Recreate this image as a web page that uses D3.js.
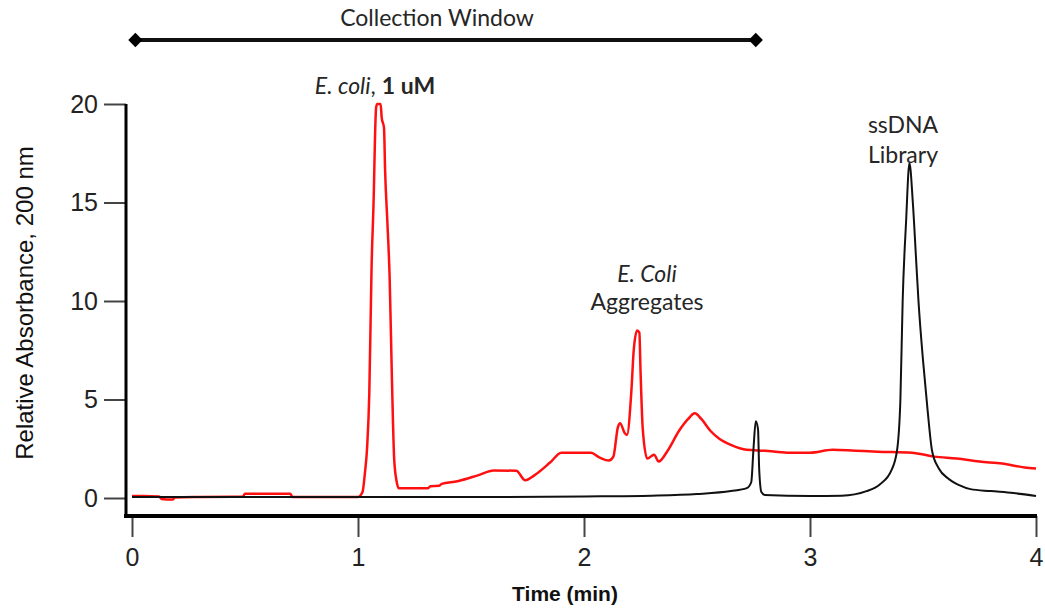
<!DOCTYPE html>
<html>
<head>
<meta charset="utf-8">
<script src="https://cdn.jsdelivr.net/npm/d3@7"></script>
<style>
  body { margin: 0; background: #fff; }
  .tick text { font-family: "Liberation Sans", Arial, sans-serif; font-size: 25px; fill: #222; }
  .tick line { stroke: #444; stroke-width: 2; }
  .note { font-family: Lato, "Open Sans", sans-serif; font-size: 23px; fill: #262626; }
</style>
</head>
<body>
<svg width="1045" height="609"></svg>
<script>
// E. coli trace (red), time in min / relative absorbance
const ecoliTime = [0, 0.05, 0.12, 0.13, 0.18, 0.19, 0.3, 0.45, 0.49, 0.5, 0.7, 0.71, 0.9, 1.0,
  1.02, 1.03, 1.04, 1.05, 1.06, 1.07, 1.075, 1.08, 1.085, 1.1, 1.105, 1.115, 1.12, 1.13, 1.14,
  1.15, 1.16, 1.17, 1.18, 1.31, 1.32, 1.36, 1.37, 1.44, 1.53, 1.6, 1.7, 1.74, 1.78, 1.85, 1.9,
  2.03, 2.07, 2.11, 2.13, 2.15, 2.16, 2.18, 2.19, 2.21, 2.22, 2.235, 2.245, 2.25, 2.26, 2.28,
  2.31, 2.33, 2.37, 2.42, 2.46, 2.49, 2.52, 2.56, 2.6, 2.65, 2.72, 2.8, 2.9, 3.0, 3.1, 3.2,
  3.3, 3.45, 3.55, 3.65, 3.75, 3.85, 3.95, 4.0];
const ecoliAbs = [0.1, 0.1, 0.08, -0.05, -0.08, 0.03, 0.05, 0.06, 0.06, 0.22, 0.22, 0.05, 0.05, 0.05,
  0.3, 1.2, 2.5, 5.3, 11.7, 15.5, 18.2, 19.8, 20.0, 20.0, 19.3, 18.8, 16.6, 14, 11.2,
  6.1, 2.0, 0.9, 0.5, 0.5, 0.6, 0.62, 0.72, 0.85, 1.15, 1.4, 1.38, 0.9, 1.15, 1.8, 2.3,
  2.3, 2.05, 1.9, 2.1, 3.6, 3.8, 3.3, 3.2, 5.5, 7.5, 8.5, 8.4, 6.5, 3.5, 2.0,
  2.2, 1.85, 2.4, 3.4, 4.0, 4.3, 4.0, 3.4, 3.0, 2.7, 2.45, 2.4, 2.3, 2.3, 2.45, 2.4,
  2.35, 2.3, 2.1, 2.0, 1.85, 1.75, 1.55, 1.5];

// ssDNA library trace (black)
const libraryTime = [0, 0.5, 1.0, 1.5, 2.0, 2.3, 2.5, 2.65, 2.72, 2.74, 2.75, 2.76, 2.77, 2.775,
  2.785, 2.8, 3.0, 3.14, 3.25, 3.31, 3.36, 3.385, 3.4, 3.41, 3.425, 3.44, 3.455, 3.47, 3.48,
  3.5, 3.52, 3.54, 3.57, 3.61, 3.66, 3.71, 3.8, 3.9, 4.0];
const libraryAbs = [0.05, 0.05, 0.05, 0.05, 0.08, 0.12, 0.2, 0.35, 0.5, 0.8, 2.5, 3.9, 3.5, 1.5,
  0.3, 0.15, 0.1, 0.12, 0.35, 0.7, 1.4, 2.4, 5.0, 10, 14, 17, 15, 12, 10,
  7, 4.5, 2.4, 1.5, 1.0, 0.65, 0.45, 0.35, 0.25, 0.1];

const xTicks = [0, 1, 2, 3, 4];
const yTicks = [0, 5, 10, 15, 20];
const collectionWindow = [0.015, 2.76];

const svg = d3.select("svg");
const x = d3.scaleLinear().domain([0, 4]).range([132, 1036]);
const y = d3.scaleLinear().domain([0, 20]).range([498, 104]);

// axes
const yAxis = svg.append("g")
  .attr("transform", "translate(126,0)")
  .call(d3.axisLeft(y).tickValues(yTicks).tickFormat(d3.format("d")).tickSize(22).tickPadding(6));
yAxis.select(".domain").remove();

const xAxis = svg.append("g")
  .attr("transform", "translate(0,516)")
  .call(d3.axisBottom(x).tickValues(xTicks).tickFormat(d3.format("d")).tickSize(21).tickPadding(11));
xAxis.select(".domain").remove();
xAxis.selectAll(".tick line").attr("stroke", "#555");

svg.append("line")
  .attr("x1", 126).attr("x2", 126).attr("y1", y(20)).attr("y2", 518)
  .attr("stroke", "#000").attr("stroke-width", 3);
svg.append("line")
  .attr("x1", 124).attr("x2", x(4) + 1).attr("y1", 516).attr("y2", 516)
  .attr("stroke", "#000").attr("stroke-width", 4);

// axis titles
svg.append("text")
  .attr("transform", "translate(33,303) rotate(-90)")
  .attr("text-anchor", "middle")
  .style("font-family", "'Liberation Sans', Arial, sans-serif")
  .style("font-size", "24px").style("fill", "#111")
  .text("Relative Absorbance, 200 nm");

svg.append("text")
  .attr("x", 565).attr("y", 601)
  .attr("text-anchor", "middle")
  .style("font-family", "'Liberation Sans', Arial, sans-serif")
  .style("font-size", "21px").style("font-weight", "bold").style("fill", "#111")
  .text("Time (min)");

// traces
const line = d3.line().x(d => x(d[0])).y(d => y(d[1])).curve(d3.curveMonotoneX);

svg.append("path")
  .datum(d3.zip(ecoliTime, ecoliAbs))
  .attr("d", line)
  .attr("fill", "none").attr("stroke", "#ff1010").attr("stroke-width", 2.5)
  .attr("stroke-linejoin", "round");

svg.append("path")
  .datum(d3.zip(libraryTime, libraryAbs))
  .attr("d", line)
  .attr("fill", "none").attr("stroke", "#111").attr("stroke-width", 2)
  .attr("stroke-linejoin", "round");

// collection window bar
const cw = svg.append("g");
cw.append("line")
  .attr("x1", x(collectionWindow[0])).attr("x2", x(collectionWindow[1]))
  .attr("y1", 40).attr("y2", 40)
  .attr("stroke", "#111").attr("stroke-width", 4);
cw.selectAll("path")
  .data(collectionWindow)
  .enter()
  .append("path")
  .attr("d", d3.symbol(d3.symbolDiamond2, 130))
  .attr("transform", d => `translate(${x(d)},40)`)
  .attr("fill", "#000");
svg.append("text")
  .attr("class", "note")
  .attr("x", 437).attr("y", 26)
  .attr("text-anchor", "middle")
  .text("Collection Window");

// peak annotations
const n1 = svg.append("text").attr("class", "note")
  .attr("x", 375).attr("y", 94).attr("text-anchor", "middle");
n1.append("tspan").style("font-style", "italic").text("E. coli");
n1.append("tspan").text(", ");
n1.append("tspan").style("font-weight", "bold").text("1 uM");

svg.append("text").attr("class", "note")
  .attr("x", 647).attr("y", 282).attr("text-anchor", "middle")
  .style("font-style", "italic").text("E. Coli");
svg.append("text").attr("class", "note")
  .attr("x", 647).attr("y", 310).attr("text-anchor", "middle")
  .text("Aggregates");

svg.append("text").attr("class", "note")
  .attr("x", 903).attr("y", 133).attr("text-anchor", "middle")
  .text("ssDNA");
svg.append("text").attr("class", "note")
  .attr("x", 903).attr("y", 163).attr("text-anchor", "middle")
  .text("Library");
</script>
</body>
</html>
